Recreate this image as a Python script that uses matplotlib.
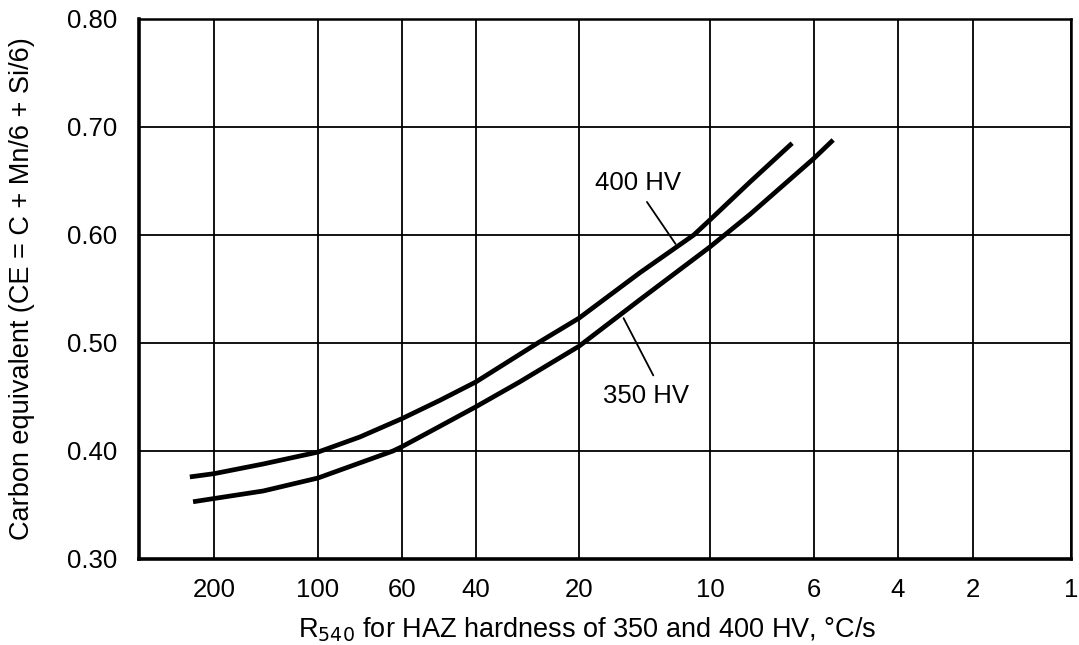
import numpy as np
import matplotlib
matplotlib.use("Agg")
import matplotlib.pyplot as plt

# ---- data ----
x_ticks = [200, 100, 60, 40, 20, 10, 6, 4, 2, 1]
y_ticks = [0.30, 0.40, 0.50, 0.60, 0.70, 0.80]

r540_400 = [235, 200, 144, 100, 77.5, 60, 48.7, 40, 26.4, 20, 14.5, 10.9, 10, 8.22, 6.68]
ce_400 = [0.376, 0.379, 0.388, 0.399, 0.413, 0.430, 0.447, 0.464, 0.500, 0.523, 0.565, 0.600, 0.614, 0.649, 0.685]

r540_350 = [230, 200, 144, 100, 77.5, 63.4, 60, 48.7, 40, 29.8, 20, 14.5, 10, 8.22, 6, 5.47]
ce_350 = [0.353, 0.356, 0.363, 0.375, 0.389, 0.400, 0.404, 0.423, 0.441, 0.464, 0.497, 0.540, 0.589, 0.619, 0.671, 0.688]

# ---- calibration of the hand-drawn (non-uniform) cooling-rate scale ----
cal_vals = np.array([330, 200, 100, 60, 40, 20, 10, 6, 4, 2, 1], float)
cal_pos = np.array([139, 214, 318, 402, 476, 579, 710, 814, 898, 973, 1071], float)
cal_u = -np.log10(cal_vals)


def _interp_ext(v, xp, fp):
    v = np.asarray(v, float)
    out = np.interp(v, xp, fp)
    s0 = (fp[1] - fp[0]) / (xp[1] - xp[0])
    s1 = (fp[-1] - fp[-2]) / (xp[-1] - xp[-2])
    out = np.where(v < xp[0], fp[0] + (v - xp[0]) * s0, out)
    out = np.where(v > xp[-1], fp[-1] + (v - xp[-1]) * s1, out)
    return out


def fwd(x):
    # increasing with x (matplotlib expects monotonic increasing transforms)
    x = np.asarray(x, float)
    lx = -np.log10(np.clip(x, 1e-9, None))
    return -_interp_ext(lx, cal_u, cal_pos)


def inv(p):
    lx = _interp_ext(-np.asarray(p, float), cal_pos, cal_u)
    return 10.0 ** (-lx)


plt.rcParams['font.family'] = ['Liberation Sans', 'DejaVu Sans']
FS = 18.5
FS_LAB = 19.5

fig = plt.figure(figsize=(10.79, 6.45), dpi=100)
ax = fig.add_axes([139 / 1079, 1 - 559 / 645, (1071 - 139) / 1079, (559 - 19) / 645])

ax.set_xscale('function', functions=(fwd, inv))

ax.set_xticks(x_ticks)
ax.set_xticklabels([str(v) for v in x_ticks])
ax.set_xticks([], minor=True)
ax.set_yticks(y_ticks)
ax.set_yticklabels([f"{v:.2f}" for v in y_ticks])

ax.tick_params(axis='both', length=0, labelsize=FS)
ax.tick_params(axis='y', pad=16)
ax.tick_params(axis='x', pad=14)
ax.grid(True, color='black', linewidth=1.3)
ax.set_axisbelow(True)

for side, lw in (('left', 2.6), ('bottom', 2.6), ('top', 1.8), ('right', 1.8)):
    ax.spines[side].set_linewidth(lw)
    ax.spines[side].set_color('black')

ax.plot(r540_400, ce_400, color='black', linewidth=3.4, solid_capstyle='butt',
        solid_joinstyle='round', zorder=3)
ax.plot(r540_350, ce_350, color='black', linewidth=3.4, solid_capstyle='butt',
        solid_joinstyle='round', zorder=3)

# curve labels with leader lines
ax.text(14.6, 0.648, "400 HV", fontsize=FS, ha='center', va='center')
ax.annotate("", xy=(12.0, 0.5917), xytext=(13.96, 0.6306),
            arrowprops=dict(arrowstyle='-', color='black', lw=1.3, shrinkA=0, shrinkB=0))
ax.text(14.0, 0.451, "350 HV", fontsize=FS, ha='center', va='center')
ax.annotate("", xy=(15.8, 0.523), xytext=(13.5, 0.470),
            arrowprops=dict(arrowstyle='-', color='black', lw=1.3, shrinkA=0, shrinkB=0))

ax.set_xlim(330, 1)
ax.set_ylim(0.30, 0.80)

fig.text(22 / 1079, 1 - 289 / 645, "Carbon equivalent (CE = C + Mn/6 + Si/6)",
         rotation=90, ha='center', va='center', fontsize=FS_LAB)
fig.text(587 / 1079, 1 - 630 / 645, r"R$_{540}$ for HAZ hardness of 350 and 400 HV, °C/s",
         ha='center', va='center', fontsize=FS_LAB)

fig.savefig("out.png", dpi=100, facecolor='white')
